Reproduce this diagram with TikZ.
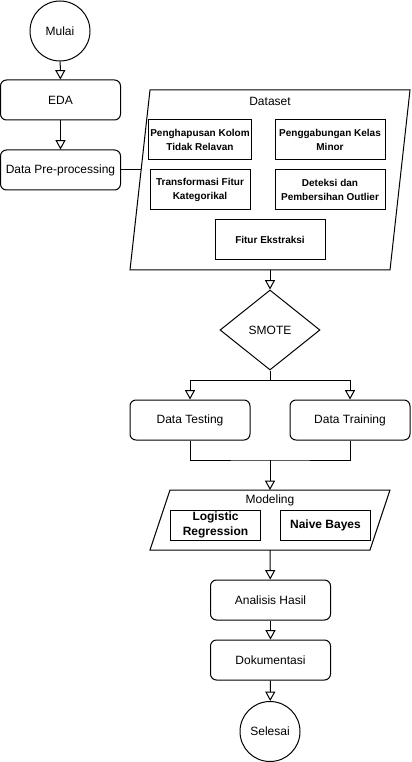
\documentclass[tikz,border=0pt]{standalone}
\usepackage{fontspec}
\setmainfont{Liberation Sans}
\usepackage{tikz}
\usetikzlibrary{arrows.meta,shapes.geometric}

\tikzset{
    arrow/.style={-{Triangle[open,length=7pt,width=7.5pt]}},
    proc/.style={draw, rounded corners=4.5pt, minimum width=90pt, minimum height=30pt, font=\fontsize{9}{11}\selectfont},
    term/.style={draw, circle, minimum size=45pt, inner sep=0pt, font=\fontsize{9}{11}\selectfont},
    sub/.style={draw, minimum height=30pt, align=center, inner sep=1pt, font=\bfseries\fontsize{7.5}{10.5}\selectfont},
    model/.style={draw, minimum width=67.5pt, minimum height=22.5pt, align=center, inner sep=1pt, font=\bfseries\fontsize{9}{11.25}\selectfont},
    lbl/.style={font=\fontsize{9}{11}\selectfont}
}

\begin{document}
\begin{tikzpicture}[x=0.75pt, y=-0.75pt, line width=0.75pt]
    \useasboundingbox (0,0) rectangle (411,762);

    \node[term] (start) at (60,31) {Mulai};
    \node[proc] (eda) at (60.5,100) {EDA};
    \node[proc] (prep) at (60.5,170) {Data Pre-processing};

    % dataset block
    \draw (150,90) -- (410,90) -- (390,270) -- (130,270) -- cycle;
    \coordinate (dsin) at (141.1,170);
    \coordinate (dsout) at (270,270);
    \node[lbl] (dataset) at (270,101) {Dataset};
    \node[sub, minimum width=75pt] (hapus) at (200,140) {Penghapusan Kolom\\Tidak Relavan};
    \node[sub, minimum width=82.5pt] (gabung) at (330,140) {Penggabungan Kelas\\Minor};
    \node[sub, minimum width=75pt] (transf) at (200,190) {Transformasi Fitur\\Kategorikal};
    \node[sub, minimum width=82.5pt] (deteksi) at (330,190) {Deteksi dan\\Pembersihan Outlier};
    \node[sub, minimum width=82.5pt] (ekstraksi) at (270,240) {Fitur Ekstraksi};

    \node[draw, diamond, minimum width=75pt, minimum height=60pt, inner sep=0pt, lbl] (smote) at (270,330) {SMOTE};
    \coordinate (split) at (270,380);
    \node[proc] (test) at (190,420) {Data Testing};
    \node[proc] (train) at (350,420) {Data Training};
    \coordinate (merge) at (270,460);

    % modeling block
    \draw (170,490) -- (390,490) -- (370,550) -- (150,550) -- cycle;
    \coordinate (mdin) at (270,490);
    \coordinate (mdout) at (270,550);
    \node[lbl] (modeling) at (270,500) {Modeling};
    \node[model] (logreg) at (215.5,525) {Logistic\\Regression};
    \node[model] (bayes) at (325.5,525) {Naive Bayes};

    \node[proc] (analisis) at (270.5,600) {Analisis Hasil};
    \node[proc] (doku) at (270.5,660) {Dokumentasi};
    \node[term] (finish) at (270,731.5) {Selesai};

    \foreach \a/\b in {start/eda, eda/prep, dsout/smote, merge/mdin, mdout/analisis, analisis/doku, doku/finish}
        \draw[arrow] (\a) -- (\b);
    \draw (prep.east) -- (dsin);
    \draw (smote.south) -- (split);
    \draw[arrow] (split) -| (test);
    \draw[arrow] (split) -| (train);
    \draw (test.south) |- (merge) -| (train.south);
\end{tikzpicture}
\end{document}
